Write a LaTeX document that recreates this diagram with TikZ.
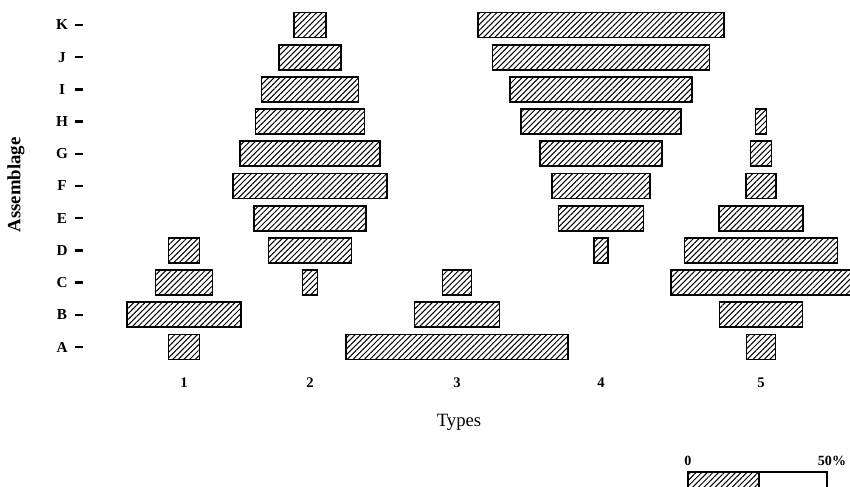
\documentclass[tikz,border=0pt]{standalone}
\usepackage{fontspec}
\setmainfont{Liberation Serif}
\usetikzlibrary{patterns.meta}
\usetikzlibrary{positioning}

\tikzset{
  bar/.style={draw, line width=1.5pt, inner sep=0pt, outer sep=0pt,
    minimum height=0.75cm,
    pattern={Lines[angle=45,distance=3.4pt,line width=0.85pt]}},
  openbar/.style={draw, line width=1.5pt, inner sep=0pt, outer sep=0pt,
    minimum height=0.75cm},
  rowlbl/.style={font=\bfseries\fontsize{13}{15}\selectfont, inner sep=0pt},
  numlbl/.style={font=\bfseries\fontsize{12.5}{14}\selectfont, inner sep=0pt},
  keylbl/.style={font=\bfseries\fontsize{12}{14}\selectfont, inner sep=0pt},
  ttl/.style={font=\fontsize{16}{18}\selectfont, inner sep=0pt},
  tickmark/.style={line width=2pt},
}

\begin{document}
\begin{tikzpicture}[x=0.03cm, y=-0.03cm]
\useasboundingbox (0,0) rectangle (850,487);
\clip (0,0) rectangle (850,487);

% assemblages
\foreach \r [count=\i from 0] in {K,J,I,H,G,F,E,D,C,B,A} {
  \coordinate (row\r) at (0,{25+\i*32.2});
  \coordinate (tk\r) at (75,{25+\i*32.2});
  \node[rowlbl] (lbl\r) at (62,{25+\i*32.2}) {\r};
  \draw[tickmark] (tk\r) -- ++(8,0);
}

% types
\foreach \c/\x in {1/184,2/310,3/457,4/601,5/761} {
  \coordinate (col\c) at (\x,0);
  \node[numlbl] (num\c) at (\x,383) {\c};
}

% bars, widths in px
\foreach \r/\w in {D/31,C/57,B/114,A/31}
  \node[bar, minimum width=\w*0.03cm] (t1\r) at (col1 |- row\r) {};
\foreach \r/\w in {K/32,J/62,I/97,H/109,G/140,F/154,E/112,D/83,C/15}
  \node[bar, minimum width=\w*0.03cm] (t2\r) at (col2 |- row\r) {};
\foreach \r/\w in {C/29,B/85,A/222}
  \node[bar, minimum width=\w*0.03cm] (t3\r) at (col3 |- row\r) {};
\foreach \r/\w in {K/246,J/217,I/182,H/160,G/122,F/98,E/85,D/14}
  \node[bar, minimum width=\w*0.03cm] (t4\r) at (col4 |- row\r) {};
\foreach \r/\w in {H/11,G/21,F/30,E/84,D/153,C/180,B/83,A/29}
  \node[bar, minimum width=\w*0.03cm] (t5\r) at (col5 |- row\r) {};

% axis titles
\node[ttl, font=\bfseries\fontsize{16}{18}\selectfont, rotate=90] (assemblage) at (16,185) {Assemblage};
\node[ttl] (types) at (459,422) {Types};

% key
\node[bar, minimum width=71*0.03cm] (keyfill) at (723.5,484.5) {};
\node[openbar, minimum width=68*0.03cm] (keyopen) at (793,484.5) {};
\node[keylbl, above=0.17cm of keyfill.north west] (key0) {0};
\node[keylbl, above=0.17cm of keyopen.north east, xshift=0.15cm] (key50) {50\%};
\end{tikzpicture}
\end{document}
